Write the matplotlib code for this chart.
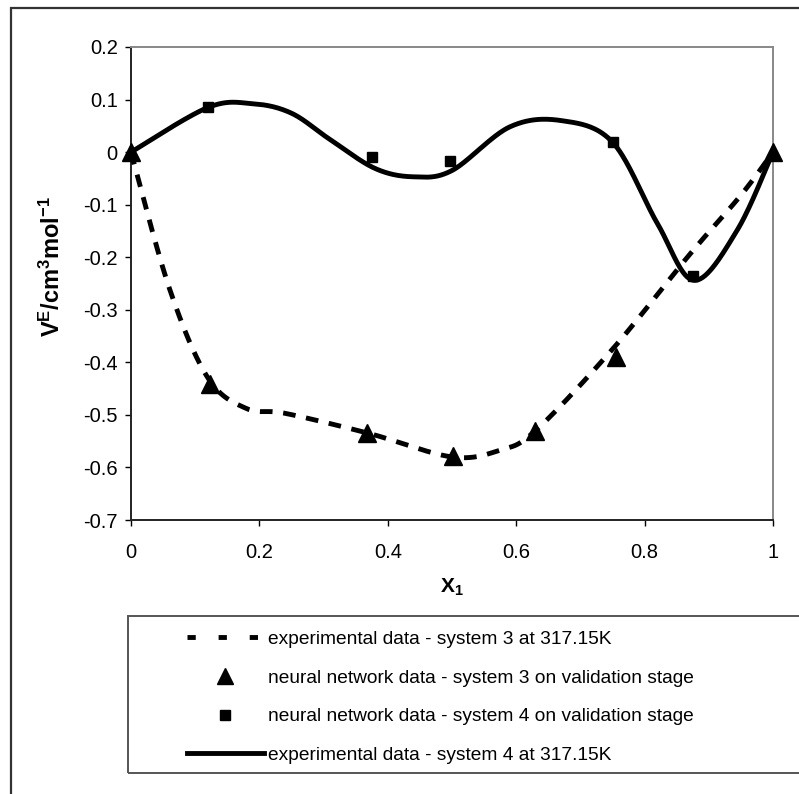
import numpy as np
import matplotlib
matplotlib.use("Agg")
import matplotlib.pyplot as plt
from matplotlib.patches import Rectangle
from matplotlib.lines import Line2D

plt.rcParams['font.family'] = ['Liberation Sans', 'DejaVu Sans']
plt.rcParams['mathtext.fontset'] = 'custom'
plt.rcParams['mathtext.rm'] = 'Liberation Sans'
plt.rcParams['mathtext.bf'] = 'Liberation Sans:bold'

# experimental data - system 3 (dashed)
x_exp3 = [0, 0.06, 0.12, 0.18, 0.24, 0.37, 0.5, 0.575, 0.63, 0.75, 0.87, 0.95, 1.0]
y_exp3 = [0, -0.26, -0.43, -0.488, -0.497, -0.535, -0.58, -0.567, -0.53, -0.375, -0.195, -0.082, 0]

# experimental data - system 4 (solid)
x_exp4 = [0, 0.12, 0.19, 0.25, 0.31, 0.38, 0.44, 0.5, 0.59, 0.67, 0.75, 0.82, 0.877, 0.944, 1.0]
y_exp4 = [0, 0.085, 0.092, 0.074, 0.024, -0.031, -0.047, -0.035, 0.048, 0.06, 0.019, -0.136, -0.244, -0.149, 0]

# neural network data - validation stage
x_nn3 = [0, 0.123, 0.367, 0.502, 0.629, 0.755, 1.0]
y_nn3 = [0, -0.442, -0.535, -0.579, -0.531, -0.39, 0]
x_nn4 = [0.12, 0.375, 0.497, 0.75, 0.875]
y_nn4 = [0.085, -0.01, -0.016, 0.019, -0.235]

labels = ['experimental data - system 3 at 317.15K',
          'neural network data - system 3 on validation stage',
          'neural network data - system 4 on validation stage',
          'experimental data - system 4 at 317.15K']

x_ticks = [0, 0.2, 0.4, 0.6, 0.8, 1.0]
x_ticklabels = ['0', '0.2', '0.4', '0.6', '0.8', '1']
y_ticks = [0.2, 0.1, 0, -0.1, -0.2, -0.3, -0.4, -0.5, -0.6, -0.7]
y_ticklabels = ['0.2', '0.1', '0', '-0.1', '-0.2', '-0.3', '-0.4', '-0.5', '-0.6', '-0.7']


def smooth(xs, ys, n=40):
    # excel-style smoothed line (catmull-rom as cubic bezier)
    p = np.column_stack([xs, ys]).astype(float)
    p = np.vstack([p[0], p, p[-1]])
    t = np.linspace(0, 1, n)[:, None]
    out = []
    for i in range(1, len(p) - 2):
        p0, p1, p2, p3 = p[i - 1], p[i], p[i + 1], p[i + 2]
        c1 = p1 + (p2 - p0) / 6
        c2 = p2 - (p3 - p1) / 6
        seg = ((1 - t) ** 3) * p1 + 3 * ((1 - t) ** 2) * t * c1 + 3 * (1 - t) * t ** 2 * c2 + t ** 3 * p2
        out.append(seg)
    out = np.vstack(out)
    return out[:, 0], out[:, 1]


W, H = 799, 794
fig = plt.figure(figsize=(W / 100, H / 100), dpi=100)
ax = fig.add_axes([131 / W, 1 - 520 / H, 642 / W, 473 / H])

sx3, sy3 = smooth(x_exp3, y_exp3)
sx4, sy4 = smooth(x_exp4, y_exp4)
ax.plot(sx3, sy3, color='black', lw=3.5, dashes=(2.6, 2.2), solid_capstyle='butt', clip_on=False, zorder=3)
ax.plot(sx4, sy4, color='black', lw=3.5, solid_capstyle='round', clip_on=False, zorder=3)
ax.plot(x_nn4, y_nn4, ls='none', marker='s', ms=6.5, color='black', clip_on=False, zorder=4)
ax.plot(x_nn3, y_nn3, ls='none', marker='^', ms=12.5, color='black', clip_on=False, zorder=5)

ax.set_xlim(0, 1)
ax.set_ylim(-0.7, 0.2)
ax.set_xticks(x_ticks)
ax.set_xticklabels(x_ticklabels)
ax.set_yticks(y_ticks)
ax.set_yticklabels(y_ticklabels)
ax.tick_params(direction='out', length=4.5, width=1, labelsize=14.5, colors='black')
ax.tick_params(axis='y', pad=5)
ax.tick_params(axis='x', pad=12)

for side in ['left', 'bottom']:
    ax.spines[side].set_color('#222222')
    ax.spines[side].set_linewidth(1.4)
for side in ['top', 'right']:
    ax.spines[side].set_color('#888888')
    ax.spines[side].set_linewidth(1.4)

ax.set_xlabel(r'$\mathbf{X_1}$', fontsize=15)
ax.xaxis.set_label_coords(0.5, (520 - 577) / 473)
ax.set_ylabel(r'$\mathbf{V^E/cm^3mol^{-1}}$', fontsize=17)
ax.yaxis.set_label_coords((65 - 131) / 642, (520 - 267) / 473)

# outer chart border
fig.add_artist(Rectangle((11 / W, -0.1), 1.2, 1.1 - 8 / H, transform=fig.transFigure,
                         fill=False, edgecolor='#333333', lw=1.6))
# legend frame
fig.add_artist(Rectangle((128 / W, 1 - 773 / H), 0.9, 157 / H, transform=fig.transFigure,
                         fill=False, edgecolor='#555555', lw=1.4))

handles = [Line2D([], [], color='black', lw=3.5, dashes=(1.7, 4.7)),
           Line2D([], [], ls='none', marker='^', ms=12, color='black'),
           Line2D([], [], ls='none', marker='s', ms=6.5, color='black'),
           Line2D([], [], color='black', lw=3.5)]
fig.legend(handles, labels, loc='upper left', bbox_to_anchor=(187 / W, 1 - 630.5 / H),
           frameon=False, fontsize=13.8, handlelength=4.0, handletextpad=0.2,
           labelspacing=1.11, borderpad=0, borderaxespad=0)

fig.savefig('out.png', dpi=100)
